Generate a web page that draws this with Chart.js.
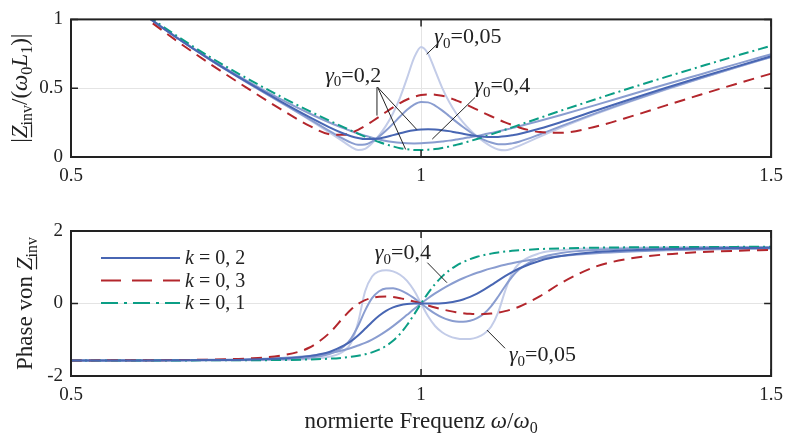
<!DOCTYPE html>
<html>
<head>
<meta charset="utf-8">
<script src="https://cdn.jsdelivr.net/npm/chart.js@4.4.1/dist/chart.umd.min.js"></script>
<style>
  html, body { margin: 0; padding: 0; background: #fff; }
  #wrap { position: relative; width: 791px; height: 438px; }
  .panel { position: absolute; left: 0; width: 791px; }
  #top { top: 0; height: 200px; }
  #bottom { top: 200px; height: 238px; }
</style>
</head>
<body>
<div id="wrap">
  <div class="panel" id="top"><canvas id="absChart"></canvas></div>
  <div class="panel" id="bottom"><canvas id="phaseChart"></canvas></div>
</div>
<script>
const SERIF = '"Liberation Serif", "Times New Roman", serif';
const INK = '#222';

// normierte Frequenz w/w0
const freq = [
  0.5, 0.55, 0.6, 0.65, 0.7, 0.75, 0.8, 0.84,
  0.87, 0.89, 0.9, 0.91, 0.92, 0.93, 0.94, 0.95, 0.96, 0.97, 0.98, 0.99,
  1, 1.01, 1.02, 1.03, 1.04, 1.05, 1.06, 1.07, 1.08, 1.09, 1.1,
  1.11, 1.12, 1.13, 1.14, 1.17, 1.2, 1.25, 1.3, 1.35, 1.4, 1.45, 1.5
];
const xTicks = [0.5, 1, 1.5];
const absTicks = [0, 0.5, 1];
const phaseTicks = [-2, 0, 2];

// |Z_inv|/(w0 L1), k = 0,2 for gamma0 = 0,05 / 0,1 / 0,2 / 0,4
const absG005 = [
  1.493, 1.259, 1.053, 0.870, 0.702, 0.545, 0.394, 0.272,
  0.175, 0.108, 0.074, 0.050, 0.059, 0.100, 0.157, 0.228, 0.318, 0.432, 0.573, 0.720,
  0.800, 0.751, 0.629, 0.504, 0.401, 0.318, 0.251, 0.196, 0.149, 0.110, 0.078,
  0.055, 0.049, 0.061, 0.081, 0.148, 0.213, 0.313, 0.405, 0.491, 0.572, 0.650, 0.726
];
const absG01 = [
  1.493, 1.259, 1.053, 0.870, 0.702, 0.546, 0.396, 0.277,
  0.187, 0.129, 0.104, 0.089, 0.091, 0.112, 0.148, 0.192, 0.242, 0.294, 0.343, 0.381,
  0.400, 0.397, 0.374, 0.339, 0.298, 0.257, 0.218, 0.182, 0.150, 0.124, 0.105,
  0.093, 0.092, 0.099, 0.111, 0.165, 0.224, 0.319, 0.408, 0.493, 0.574, 0.652, 0.727
];
const absG02 = [
  1.494, 1.259, 1.054, 0.870, 0.704, 0.549, 0.403, 0.292,
  0.214, 0.169, 0.151, 0.138, 0.130, 0.130, 0.135, 0.146, 0.159, 0.172, 0.185, 0.194,
  0.200, 0.202, 0.200, 0.195, 0.188, 0.178, 0.169, 0.160, 0.152, 0.147, 0.145,
  0.146, 0.150, 0.158, 0.167, 0.207, 0.254, 0.338, 0.421, 0.503, 0.581, 0.657, 0.732
];
const absG04 = [
  1.494, 1.260, 1.055, 0.873, 0.708, 0.557, 0.419, 0.318,
  0.249, 0.208, 0.189, 0.171, 0.155, 0.140, 0.128, 0.117, 0.109, 0.103, 0.100, 0.099,
  0.100, 0.103, 0.107, 0.113, 0.119, 0.127, 0.135, 0.144, 0.153, 0.164, 0.174,
  0.186, 0.198, 0.210, 0.223, 0.263, 0.305, 0.379, 0.454, 0.529, 0.602, 0.675, 0.747
];
// k = 0,3 and k = 0,1 (gamma0 = 0,2)
const absK03 = [
  1.485, 1.247, 1.037, 0.848, 0.672, 0.506, 0.346, 0.228,
  0.165, 0.161, 0.175, 0.197, 0.225, 0.258, 0.292, 0.327, 0.361, 0.392, 0.418, 0.437,
  0.450, 0.455, 0.453, 0.445, 0.431, 0.412, 0.391, 0.368, 0.344, 0.320, 0.296,
  0.273, 0.252, 0.233, 0.215, 0.181, 0.176, 0.222, 0.295, 0.375, 0.454, 0.531, 0.606
];
const absK01 = [
  1.498, 1.266, 1.063, 0.884, 0.722, 0.575, 0.438, 0.335,
  0.262, 0.215, 0.192, 0.170, 0.148, 0.128, 0.109, 0.092, 0.077, 0.064, 0.056, 0.051,
  0.050, 0.053, 0.058, 0.066, 0.076, 0.088, 0.101, 0.116, 0.131, 0.147, 0.164,
  0.181, 0.198, 0.215, 0.233, 0.285, 0.337, 0.421, 0.503, 0.582, 0.659, 0.735, 0.808
];

// Phase von Z_inv
const phG005 = [
  -1.571, -1.571, -1.570, -1.570, -1.568, -1.565, -1.555, -1.529,
  -1.464, -1.310, -1.089, -0.523, 0.331, 0.745, 0.887, 0.920, 0.887, 0.794, 0.625, 0.356,
  0, -0.354, -0.621, -0.793, -0.898, -0.957, -0.982, -0.976, -0.933, -0.836, -0.641,
  -0.254, 0.341, 0.833, 1.103, 1.389, 1.472, 1.522, 1.541, 1.551, 1.556, 1.560, 1.562
];
const phG01 = [
  -1.571, -1.570, -1.570, -1.568, -1.566, -1.559, -1.540, -1.494,
  -1.386, -1.180, -0.965, -0.622, -0.196, 0.146, 0.338, 0.417, 0.421, 0.370, 0.275, 0.147,
  0, -0.147, -0.279, -0.384, -0.457, -0.498, -0.506, -0.476, -0.403, -0.274, -0.077,
  0.186, 0.477, 0.738, 0.941, 1.263, 1.392, 1.479, 1.514, 1.532, 1.542, 1.549, 1.553
];
const phG02 = [
  -1.570, -1.570, -1.569, -1.566, -1.561, -1.549, -1.518, -1.452,
  -1.329, -1.158, -1.039, -0.882, -0.698, -0.508, -0.337, -0.202, -0.108, -0.049, -0.017, -0.003,
  0, -0.001, 0.000, 0.007, 0.026, 0.060, 0.112, 0.183, 0.275, 0.384, 0.505,
  0.631, 0.753, 0.866, 0.965, 1.181, 1.308, 1.418, 1.471, 1.500, 1.518, 1.529, 1.537
];
const phG04 = [
  -1.570, -1.569, -1.567, -1.563, -1.555, -1.539, -1.503, -1.445,
  -1.365, -1.282, -1.228, -1.158, -1.086, -0.994, -0.887, -0.763, -0.623, -0.472, -0.313, -0.154,
  0, 0.145, 0.278, 0.399, 0.508, 0.607, 0.696, 0.775, 0.847, 0.912, 0.970,
  1.023, 1.070, 1.112, 1.151, 1.244, 1.311, 1.388, 1.435, 1.467, 1.488, 1.503, 1.514
];
const phK03 = [
  -1.570, -1.568, -1.566, -1.560, -1.548, -1.518, -1.433, -1.221,
  -0.798, -0.365, -0.167, -0.015, 0.091, 0.155, 0.186, 0.192, 0.177, 0.146, 0.104, 0.054,
  0, -0.056, -0.110, -0.160, -0.203, -0.240, -0.267, -0.286, -0.294, -0.291, -0.277,
  -0.251, -0.211, -0.157, -0.089, 0.205, 0.565, 1.021, 1.245, 1.356, 1.418, 1.455, 1.480
];
const phK01 = [
  -1.571, -1.571, -1.570, -1.570, -1.568, -1.566, -1.559, -1.545,
  -1.522, -1.493, -1.471, -1.442, -1.402, -1.348, -1.274, -1.170, -1.029, -0.838, -0.593, -0.304,
  0, 0.287, 0.535, 0.742, 0.908, 1.040, 1.144, 1.225, 1.288, 1.337, 1.376,
  1.407, 1.432, 1.452, 1.468, 1.502, 1.522, 1.540, 1.550, 1.556, 1.559, 1.562, 1.563
];

const legendLabels = ['0, 2', '0, 3', '0, 1'];

// first entry is drawn on top
const series = [
  { abs: absG02, phase: phG02, color: '#4866b3', dash: [], legend: 0 },
  { abs: absK03, phase: phK03, color: '#b3262c', dash: [11, 7], legend: 1, legendDash: [20, 11] },
  { abs: absK01, phase: phK01, color: '#0b9e85', dash: [10, 4, 2, 4], legend: 2, legendDash: [17, 6, 3, 6] },
  { abs: absG04, phase: phG04, color: '#8a9dd0', dash: [] },
  { abs: absG01, phase: phG01, color: '#8a9dd0', dash: [] },
  { abs: absG005, phase: phG005, color: '#c3cce8', dash: [] }
];

function gammaText(v) {
  return [{ t: '\u03b3', it: 1 }, { t: '0', sub: 1 }, { t: '=' + v }];
}

function segFont(s, size) {
  const sz = s.sub ? Math.round(size * 0.7) : size;
  return (s.it ? 'italic ' : '') + sz + 'px ' + SERIF;
}

function drawRich(ctx, segs, x, y, size, align) {
  let w = 0;
  segs.forEach(s => { ctx.font = segFont(s, size); s.w = ctx.measureText(s.t).width; w += s.w; });
  let cx = align === 'center' ? x - w / 2 : x;
  ctx.textAlign = 'left';
  ctx.textBaseline = 'alphabetic';
  ctx.fillStyle = INK;
  segs.forEach(s => {
    ctx.font = segFont(s, size);
    ctx.fillText(s.t, cx, y + (s.sub ? size * 0.22 : 0));
    if (s.ul) ctx.fillRect(cx + 1, y + size * 0.17, s.w, 1.2);
    cx += s.w;
  });
}

const decor = {
  id: 'decor',
  afterDatasetsDraw(chart, args, opts) {
    const { ctx, chartArea: a } = chart;
    const x = chart.scales.x, y = chart.scales.y;
    ctx.save();
    ctx.strokeStyle = INK;

    // inward tick marks
    ctx.lineWidth = 1.5;
    ctx.beginPath();
    x.ticks.forEach(t => {
      const px = x.getPixelForValue(t.value);
      ctx.moveTo(px, a.bottom); ctx.lineTo(px, a.bottom - 7);
      ctx.moveTo(px, a.top); ctx.lineTo(px, a.top + 7);
    });
    y.ticks.forEach(t => {
      const py = y.getPixelForValue(t.value);
      ctx.moveTo(a.left, py); ctx.lineTo(a.left + 7, py);
      ctx.moveTo(a.right, py); ctx.lineTo(a.right - 7, py);
    });
    ctx.stroke();

    // frame
    ctx.lineWidth = 2;
    ctx.strokeRect(a.left, a.top, a.right - a.left, a.bottom - a.top);

    // y title (rotated)
    ctx.save();
    ctx.translate(opts.yTitleX, (a.top + a.bottom) / 2);
    ctx.rotate(-Math.PI / 2);
    drawRich(ctx, opts.yTitle, 0, 0, 23, 'center');
    ctx.restore();

    // x title
    if (opts.xTitle) {
      drawRich(ctx, opts.xTitle, (a.left + a.right) / 2, opts.xTitleY, 23, 'center');
    }

    // gamma annotations with leader lines
    ctx.lineWidth = 1;
    (opts.notes || []).forEach(n => {
      ctx.beginPath();
      n.lines.forEach(l => {
        ctx.moveTo(x.getPixelForValue(l[0]), y.getPixelForValue(l[1]));
        ctx.lineTo(x.getPixelForValue(l[2]), y.getPixelForValue(l[3]));
      });
      ctx.stroke();
      drawRich(ctx, gammaText(n.text), x.getPixelForValue(n.x), y.getPixelForValue(n.y), 22, 'left');
    });

    // legend
    if (opts.legend) {
      series.filter(s => s.legend !== undefined).forEach(s => {
        const ry = a.top + 27 + s.legend * 22.5;
        ctx.beginPath();
        ctx.strokeStyle = s.color;
        ctx.lineWidth = 2;
        ctx.setLineDash(s.legendDash || []);
        ctx.moveTo(a.left + 30, ry);
        ctx.lineTo(a.left + 109, ry);
        ctx.stroke();
        ctx.setLineDash([]);
        drawRich(ctx, [{ t: 'k', it: 1 }, { t: ' = ' + legendLabels[s.legend] }], a.left + 114, ry + 6, 20, 'left');
      });
    }
    ctx.restore();
  }
};

function axisX(height) {
  return {
    type: 'linear', min: 0.5, max: 1.5,
    afterBuildTicks: s => { s.ticks = xTicks.map(v => ({ value: v })); },
    afterFit: s => { s.height = height; },
    grid: { color: '#e4e4e4', lineWidth: 1, drawTicks: false },
    border: { display: false },
    ticks: { padding: 8, color: INK, font: { family: SERIF, size: 19 }, maxRotation: 0, callback: v => String(v) }
  };
}

function axisY(min, max, tickList) {
  return {
    type: 'linear', min: min, max: max,
    afterBuildTicks: s => { s.ticks = tickList.map(v => ({ value: v })); },
    afterFit: s => { s.width = 71; },
    grid: { color: '#e4e4e4', lineWidth: 1, drawTicks: false },
    border: { display: false },
    ticks: { padding: 8, color: INK, font: { family: SERIF, size: 19 }, callback: v => String(v) }
  };
}

function makeDatasets(key) {
  return series.map(s => ({
    data: freq.map((f, i) => ({ x: f, y: s[key][i] })),
    borderColor: s.color,
    borderWidth: 2,
    borderDash: s.dash,
    pointRadius: 0,
    fill: false,
    cubicInterpolationMode: 'monotone',
    clip: 0
  }));
}

new Chart(document.getElementById('absChart'), {
  type: 'line',
  data: { datasets: makeDatasets('abs') },
  options: {
    responsive: true, maintainAspectRatio: false, animation: false,
    layout: { padding: { top: 11, right: 15, left: 0, bottom: 0 } },
    scales: { x: axisX(43), y: axisY(0, 1, absTicks) },
    plugins: {
      legend: { display: false }, tooltip: { enabled: false },
      decor: {
        yTitleX: 27,
        yTitle: [{ t: '|' }, { t: 'Z', it: 1, ul: 1 }, { t: 'inv', sub: 1 }, { t: '/(' },
                 { t: '\u03c9', it: 1 }, { t: '0', sub: 1 }, { t: 'L', it: 1 }, { t: '1', sub: 1 }, { t: ')|' }],
        notes: [
          { text: '0,05', x: 1.019, y: 0.829, lines: [[1.008, 0.747, 1.022, 0.815]] },
          { text: '0,2', x: 0.863, y: 0.548,
            lines: [[0.938, 0.507, 0.994, 0.199], [0.938, 0.507, 0.978, 0.055], [0.937, 0.507, 0.937, 0.301]] },
          { text: '0,4', x: 1.076, y: 0.473, lines: [[1.077, 0.432, 1.016, 0.130]] }
        ]
      }
    }
  },
  plugins: [decor]
});

new Chart(document.getElementById('phaseChart'), {
  type: 'line',
  data: { datasets: makeDatasets('phase') },
  options: {
    responsive: true, maintainAspectRatio: false, animation: false,
    layout: { padding: { top: 31, right: 15, left: 0, bottom: 0 } },
    scales: { x: axisX(62), y: axisY(-2, 2, phaseTicks) },
    plugins: {
      legend: { display: false }, tooltip: { enabled: false },
      decor: {
        yTitleX: 32,
        yTitle: [{ t: 'Phase von ' }, { t: 'Z', it: 1, ul: 1 }, { t: 'inv', sub: 1 }],
        xTitle: [{ t: 'normierte Frequenz ' }, { t: '\u03c9', it: 1 }, { t: '/' }, { t: '\u03c9', it: 1 }, { t: '0', sub: 1 }],
        xTitleY: 228,
        legend: true,
        notes: [
          { text: '0,4', x: 0.934, y: 1.228, lines: [[1.009, 1.126, 1.037, 0.574]] },
          { text: '0,05', x: 1.1255, y: -1.586, lines: [[1.094, -0.731, 1.120, -1.236]] }
        ]
      }
    }
  },
  plugins: [decor]
});
</script>
</body>
</html>
